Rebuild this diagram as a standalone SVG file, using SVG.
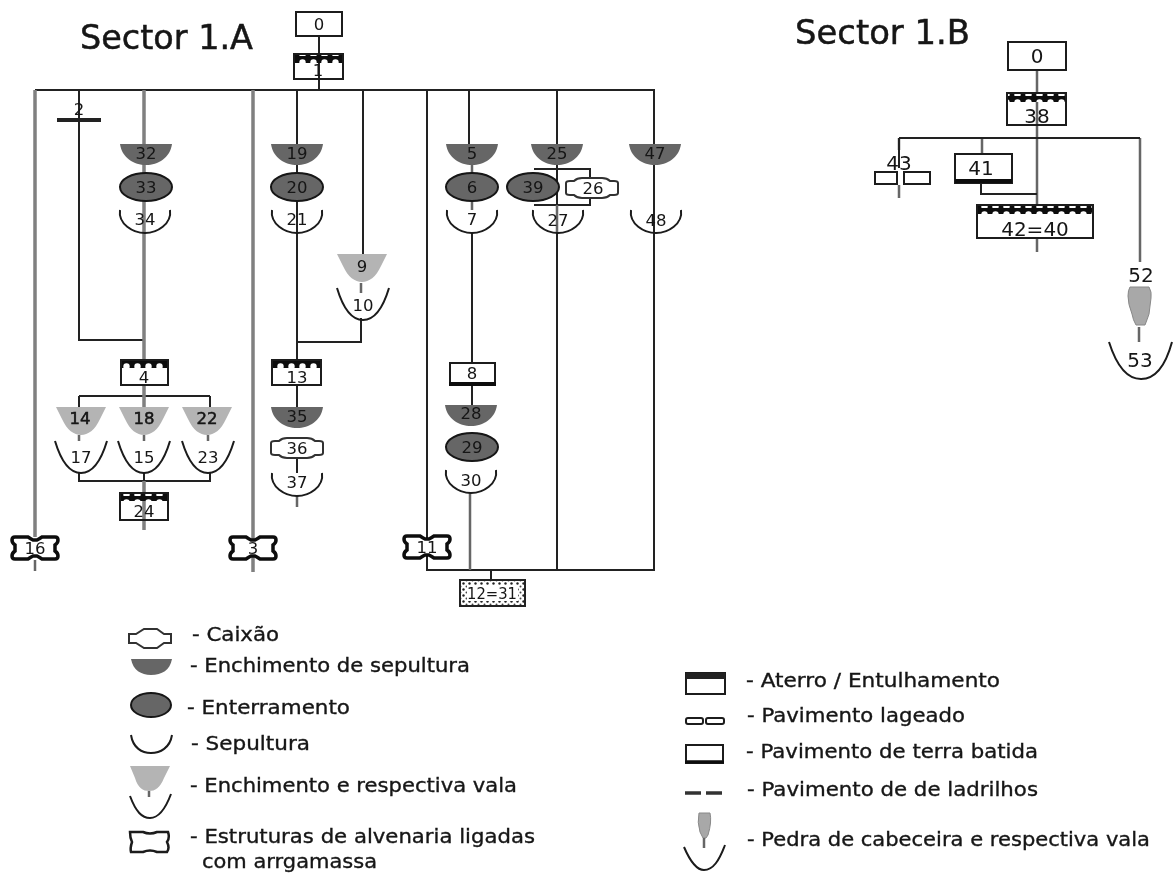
<svg xmlns="http://www.w3.org/2000/svg" width="1174" height="875" viewBox="0 0 1174 875">
<style>
text{font-family:"DejaVu Sans",sans-serif;fill:#151515}
.title{font-size:34px;stroke:#151515;stroke-width:.5}
.n{font-size:16.5px;text-anchor:middle}
.hv{stroke:#111;stroke-width:.5}
.nb{font-size:20px;text-anchor:middle}
.l{font-size:19.5px;stroke:#151515;stroke-width:.35}
.box{fill:none;stroke:#1a1a1a;stroke-width:2}
.blk{fill:none;stroke:#222;stroke-width:2}
.gry{fill:none;stroke:#808080;stroke-width:3.5}
.mid{fill:none;stroke:#666;stroke-width:2.5}
.halfS{fill:#666}
.triS{fill:#b4b4b4}
.ellS{fill:#666;stroke:#151515;stroke-width:2}
.cupS{fill:none;stroke:#1a1a1a;stroke-width:2}
.coffS{fill:#fff;stroke:#333;stroke-width:2}
.strS{fill:#fff;stroke:#0c0c0c;stroke-width:3.5}
.stoneS{fill:#a8a8a8;stroke:#888;stroke-width:1}
</style>
<defs>
<filter id="soft" x="0" y="0" width="100%" height="100%"><feGaussianBlur stdDeviation="0.55"/></filter>
<pattern id="scallop" patternUnits="userSpaceOnUse" width="11" height="8">
<rect width="11" height="8" fill="#111"/><circle cx="5.5" cy="6.5" r="3.2" fill="#fff"/>
</pattern>
<pattern id="speck" patternUnits="userSpaceOnUse" width="6" height="6">
<rect width="6" height="6" fill="#fff"/><circle cx="1.5" cy="1.5" r="1.2" fill="#222"/><circle cx="4.5" cy="4.5" r="1" fill="#444"/>
</pattern>
<path id="half" class="halfS" d="M-26 0H26C24 14 12 21 0 21C-12 21 -24 14 -26 0Z"/>
<ellipse id="ell" class="ellS" rx="26" ry="14"/>
<path id="cup" class="cupS" d="M-25 0C-27 14 -12 23 0 23C12 23 27 14 25 0"/>
<path id="vala" class="cupS" d="M-26 0C-20 20 -11 32 0 32C11 32 20 20 26 0"/>
<path id="tri" class="triS" d="M-25 0H25L19 12C14 23 7 28 0 28C-7 28 -14 23 -19 12Z"/>
<path id="coff" class="coffS" d="M-26 -5Q-26 -7 -22 -7H-18Q-15 -10 -10 -10H10Q15 -10 18 -7H22Q26 -7 26 -5V5Q26 7 22 7H18Q15 10 10 10H-10Q-15 10 -18 7H-22Q-26 7 -26 5Z"/>
<path id="str" class="strS" d="M-20 -11H-7Q-4 -9 -2 -8H2Q4 -9 7 -11H20Q23 -11 23 -8Q23 -5 20 -3V3Q23 5 23 8Q23 11 20 11H7Q4 9 2 8H-2Q-4 9 -7 11H-20Q-23 11 -23 8Q-23 5 -20 3V-3Q-23 -5 -23 -8Q-23 -11 -20 -11Z"/>
<path id="stone" class="stoneS" d="M-10 -19H9Q12 -14 11 -8Q10 0 9 8Q7 14 5 19H-4Q-7 14 -8 8Q-12 -2 -12 -10Q-12 -16 -10 -19Z"/>
</defs>
<g filter="url(#soft)">
<rect width="1174" height="875" fill="#fff"/>
<text class="title" x="80" y="49" textLength="173" lengthAdjust="spacingAndGlyphs">Sector 1.A</text>
<text class="title" x="795" y="44" textLength="175" lengthAdjust="spacingAndGlyphs">Sector 1.B</text>

<g id="connectors">
<path class="blk" d="M319 36V90M35 90H655M79 90V340H144M297 90V360M297 342H361V318M363 90V255M469 90V150M427 90V570H655M557 90V570M654 90V570M491 570V582M79 396V407M210 396V407M79 396H210M79 473V481H210V473M144 473V481M534 169H590V205H534M297 385V407M297 458V473M472 233V363M472 385V405"/>
<path class="gry" d="M35 90V537M144 90V360M144 385V407M144 481V530M253 90V572"/>
<path class="mid" d="M35 560V571M144 435V441M79 435V441M208 435V441M361 283V293M297 495V507M470 492V570M472 165V173M472 201V210M557 233V205M1037 70V205M899 138V150M899 185V198M982 138V155M1037 238V252M1140 138V262M1139 327V342"/>
<path class="blk" d="M899 138H1140M899 138V168M981 183V194H1037"/>
</g>

<g id="n0"><rect class="box" x="296" y="12" width="46" height="24"/><text class="n" x="319" y="30">0</text></g>
<g id="n1"><rect class="box" x="294" y="54" width="49" height="25"/><rect x="295" y="55" width="47" height="8" fill="url(#scallop)"/><text class="n" x="318" y="76">1</text></g>
<g id="n2"><path d="M57 120H101" stroke="#222" stroke-width="4"/><text class="n" x="79" y="115">2</text></g>
<g id="n32"><use href="#half" x="146" y="144"/><text class="n" x="146" y="159">32</text></g>
<g id="n33"><use href="#ell" x="146" y="187"/><text class="n" x="146" y="193">33</text></g>
<g id="n34"><use href="#cup" x="145" y="210"/><text class="n" x="145" y="225">34</text></g>
<g id="n4"><rect class="box" x="121" y="360" width="47" height="25"/><rect x="122" y="361" width="45" height="7" fill="url(#scallop)"/><text class="n" x="144" y="383">4</text></g>
<g id="n14"><use href="#tri" x="81" y="407"/><text class="n hv" x="80" y="424">14</text></g>
<g id="n18"><use href="#tri" x="144" y="407"/><text class="n hv" x="144" y="424">18</text></g>
<g id="n22"><use href="#tri" x="207" y="407"/><text class="n hv" x="207" y="424">22</text></g>
<g id="n17"><use href="#vala" x="81" y="441"/><text class="n" x="81" y="463">17</text></g>
<g id="n15"><use href="#vala" x="144" y="441"/><text class="n" x="144" y="463">15</text></g>
<g id="n23"><use href="#vala" x="208" y="441"/><text class="n" x="208" y="463">23</text></g>
<g id="n24"><rect class="box" x="120" y="493" width="48" height="27"/><rect x="121" y="494" width="46" height="7" fill="url(#scallop)"/><text class="n" x="144" y="517">24</text></g>
<g id="n16"><use href="#str" x="35" y="548"/><text class="n" x="35" y="554">16</text></g>
<g id="n3"><use href="#str" x="253" y="548"/><text class="n" x="253" y="554">3</text></g>
<g id="n11"><use href="#str" x="427" y="547"/><text class="n" x="427" y="553">11</text></g>
<g id="n19"><use href="#half" x="297" y="144"/><text class="n" x="297" y="159">19</text></g>
<g id="n20"><use href="#ell" x="297" y="187"/><text class="n" x="297" y="193">20</text></g>
<g id="n21"><use href="#cup" x="297" y="210"/><text class="n" x="297" y="225">21</text></g>
<g id="n9"><use href="#tri" x="362" y="254"/><text class="n" x="362" y="272">9</text></g>
<g id="n10"><use href="#vala" x="363" y="288"/><text class="n" x="363" y="311">10</text></g>
<g id="n13"><rect class="box" x="272" y="360" width="49" height="25"/><rect x="273" y="361" width="47" height="7" fill="url(#scallop)"/><text class="n" x="297" y="383">13</text></g>
<g id="n35"><use href="#half" x="297" y="407"/><text class="n" x="297" y="422">35</text></g>
<g id="n36"><use href="#coff" x="297" y="448"/><text class="n" x="297" y="454">36</text></g>
<g id="n37"><use href="#cup" x="297" y="473"/><text class="n" x="297" y="488">37</text></g>
<g id="n5"><use href="#half" x="472" y="144"/><text class="n" x="472" y="159">5</text></g>
<g id="n6"><use href="#ell" x="472" y="187"/><text class="n" x="472" y="193">6</text></g>
<g id="n7"><use href="#cup" x="472" y="210"/><text class="n" x="472" y="225">7</text></g>
<g id="n8"><rect class="box" x="450" y="363" width="45" height="22"/><path d="M449 384H496" stroke="#111" stroke-width="4"/><text class="n" x="472" y="379">8</text></g>
<g id="n28"><use href="#half" x="471" y="405"/><text class="n" x="471" y="419">28</text></g>
<g id="n29"><use href="#ell" x="472" y="447"/><text class="n" x="472" y="453">29</text></g>
<g id="n30"><use href="#cup" x="471" y="470"/><text class="n" x="471" y="486">30</text></g>
<g id="n25"><use href="#half" x="557" y="144"/><text class="n" x="557" y="159">25</text></g>
<g id="n39"><use href="#ell" x="533" y="187"/><text class="n" x="533" y="193">39</text></g>
<g id="n26"><use href="#coff" x="592" y="188"/><text class="n" x="593" y="194">26</text></g>
<g id="n27"><use href="#cup" x="558" y="210"/><text class="n" x="558" y="226">27</text></g>
<g id="n47"><use href="#half" x="655" y="144"/><text class="n" x="655" y="159">47</text></g>
<g id="n48"><use href="#cup" x="656" y="210"/><text class="n" x="656" y="226">48</text></g>
<g id="n12"><rect x="460" y="580" width="65" height="26" fill="url(#speck)" stroke="#222" stroke-width="2"/><rect x="467" y="585" width="51" height="16" fill="#fff"/><text class="n" x="492" y="599" textLength="50" lengthAdjust="spacingAndGlyphs">12=31</text></g>

<g id="b0"><rect class="box" x="1008" y="42" width="58" height="28"/><text class="nb" x="1037" y="63">0</text></g>
<g id="b38"><rect class="box" x="1007" y="93" width="59" height="32"/><rect x="1008" y="94" width="57" height="8" fill="url(#scallop)"/><text class="nb" x="1037" y="123">38</text></g>
<g id="b43"><rect class="box" x="875" y="172" width="22" height="12"/><rect class="box" x="904" y="172" width="26" height="12"/><text class="nb" x="899" y="170">43</text></g>
<g id="b41"><rect class="box" x="955" y="154" width="57" height="29" fill="#fff"/><path d="M955 181H1012" stroke="#111" stroke-width="4"/><text class="nb" x="981" y="175">41</text></g>
<g id="b42"><rect class="box" x="977" y="205" width="116" height="33"/><rect x="978" y="206" width="114" height="8" fill="url(#scallop)"/><text class="nb" x="1035" y="236">42=40</text></g>
<g id="b52"><text class="nb" x="1141" y="282">52</text></g>
<g id="b52s"><use href="#stone" x="1140" y="306"/></g>
<g id="b53"><path class="cupS" d="M1109 342C1116 364 1126 379 1141 379C1156 379 1166 364 1172 342"/><text class="nb" x="1140" y="367">53</text></g>

<g id="leg-caixao"><path class="coffS" d="M129 634H136L144 629H157L164 634H171V643H164L157 648H144L136 643H129Z"/><text class="l" x="192" y="641" textLength="87" lengthAdjust="spacingAndGlyphs">- Caixão</text></g>
<g id="leg-ench"><path class="halfS" d="M131 659H172C170 670 162 675 151 675C141 675 133 670 131 659Z"/><text class="l" x="190" y="672" textLength="280" lengthAdjust="spacingAndGlyphs">- Enchimento de sepultura</text></g>
<g id="leg-ent"><ellipse class="ellS" cx="151" cy="705" rx="20" ry="12"/><text class="l" x="187" y="714" textLength="163" lengthAdjust="spacingAndGlyphs">- Enterramento</text></g>
<g id="leg-sep"><path class="cupS" d="M131 735C133 748 142 753 151 753C160 753 170 748 172 735"/><text class="l" x="191" y="750" textLength="119" lengthAdjust="spacingAndGlyphs">- Sepultura</text></g>
<g id="leg-vala"><path class="triS" d="M130 766H170L164 778C160 788 155 791 149 791C143 791 138 788 135 778Z"/><path class="mid" d="M149 791V797"/><path class="cupS" d="M130 796C136 812 142 818 150 818C158 818 165 810 171 794"/><text class="l" x="190" y="792" textLength="327" lengthAdjust="spacingAndGlyphs">- Enchimento e respectiva vala</text></g>
<g id="leg-estr"><path class="cupS" style="stroke-width:2.5" d="M130 832H143Q150 835 157 832H168Q170 838 167 842Q170 848 167 852H157Q150 849 143 852H131Q130 848 132 842Q130 838 130 832Z"/><text class="l" x="190" y="843" textLength="345" lengthAdjust="spacingAndGlyphs">- Estruturas de alvenaria ligadas</text><text class="l" x="202" y="868" textLength="175" lengthAdjust="spacingAndGlyphs">com arrgamassa</text></g>

<g id="leg-aterro"><rect class="box" x="686" y="673" width="39" height="21"/><rect x="686" y="673" width="39" height="6" fill="#222"/><text class="l" x="746" y="687" textLength="254" lengthAdjust="spacingAndGlyphs">- Aterro / Entulhamento</text></g>
<g id="leg-lag"><rect class="box" x="686" y="718" width="17" height="6" rx="2"/><rect class="box" x="706" y="718" width="18" height="6" rx="2"/><text class="l" x="747" y="722" textLength="218" lengthAdjust="spacingAndGlyphs">- Pavimento lageado</text></g>
<g id="leg-terra"><rect class="box" x="686" y="745" width="37" height="18"/><path d="M685 762H724" stroke="#111" stroke-width="3.5"/><text class="l" x="746" y="758" textLength="292" lengthAdjust="spacingAndGlyphs">- Pavimento de terra batida</text></g>
<g id="leg-lad"><path d="M685 793H701M706 793H722" stroke="#333" stroke-width="3.5"/><text class="l" x="747" y="796" textLength="291" lengthAdjust="spacingAndGlyphs">- Pavimento de de ladrilhos</text></g>
<g id="leg-ped"><path class="stoneS" d="M699 813H710Q712 822 708 835L706 838H703L700 832Q697 822 699 813Z"/><path class="mid" d="M704 838V848"/><path class="cupS" d="M684 847C690 861 696 870 704 870C713 870 719 861 725 845"/><text class="l" x="747" y="846" textLength="403" lengthAdjust="spacingAndGlyphs">- Pedra de cabeceira e respectiva vala</text></g>
</g>
</svg>
